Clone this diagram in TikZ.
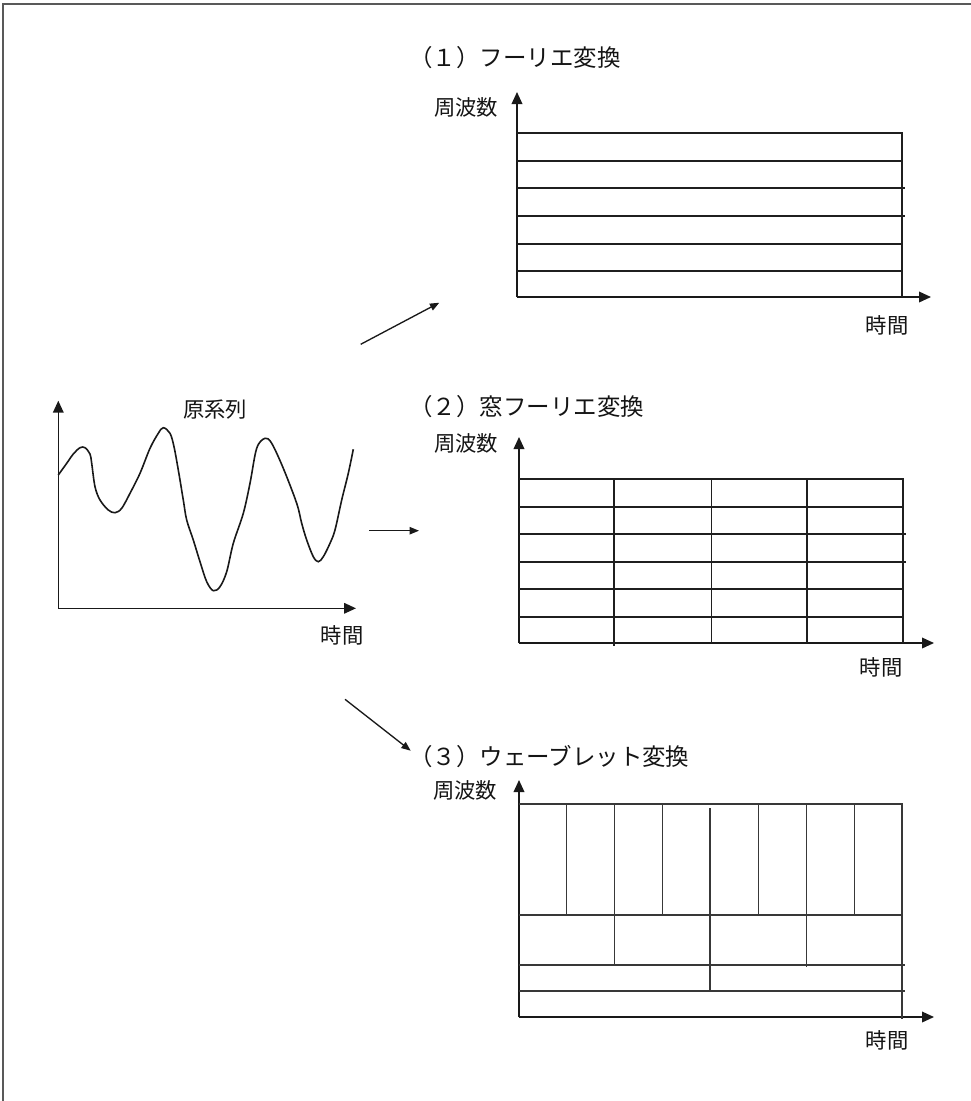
\documentclass[tikz,border=0pt]{standalone}
\usepackage{fontspec}
\setmainfont{Noto Sans CJK JP}
\usetikzlibrary{arrows.meta}
\begin{document}
\begin{tikzpicture}[x=0.75pt,y=-0.75pt,
  axis/.style={line width=1.1pt, draw=black!90, -{Triangle[length=9pt,width=8pt]}},
  gridln/.style={line width=1pt, draw=black!88},
  wgridln/.style={line width=0.8pt, draw=black!78},
  flow/.style={line width=1pt, draw=black!90, -{Triangle[length=7pt,width=5.5pt]}},
  lab/.style={font=\fontsize{16}{18}\selectfont, inner sep=0pt, text=black!92},
  ttl/.style={font=\fontsize{17.6}{20}\selectfont, inner sep=0pt, anchor=west, text=black!92},
  framel/.style={line width=1.2pt, draw=black!65}]
\useasboundingbox (0,0) rectangle (971,1101);
% outer frame (top and left)
\draw[framel] (3,1101) -- (3,4) -- (971,4);

% ---------- original series ----------
\coordinate (o0) at (58.3,608.3);
\coordinate (y0) at (58.3,400.7);
\coordinate (x0) at (356,608.3);
\draw[axis] (o0) -- (y0);
\draw[axis] (o0) -- (x0);
\node[lab] (orig) at (215,410) {原系列};
\node[lab] (t0) at (342,635) {時間};
\draw[line width=1.2pt, draw=black!90] plot[smooth, tension=0.55] coordinates {
(58.3,475) (66.7,463.3) (73.3,454) (80,447.7) (85,447.7) (90,454) (91.7,463.3)
(95,486.7) (100,500) (108.3,510) (115,512.7) (121.7,508.3) (130,493.3) (140,473.3)
(150,448.3) (158.3,433.3) (163.3,427.7) (170,433.3) (174,446.7) (178.3,470)
(183.3,500) (186.7,520) (193.3,540) (200,561.7) (206.7,581.7) (213.3,590.7)
(220,586.7) (226.7,571.7) (233.3,543.3) (243.3,513.3) (250,483.3) (256.7,448.3)
(265,438.3) (271.7,443.3) (283.3,468.3) (296.7,503.3) (301.7,523.3) (306.7,540)
(313.3,556.7) (318.3,561.7) (323.3,556.7) (330,543.3) (335,530) (341.7,500)
(348.3,473.3) (353.3,449.3)};

% ---------- flow arrows ----------
\coordinate (a1s) at (360.7,344.3);
\coordinate (a1e) at (439.3,302.7);
\coordinate (a2s) at (369.3,530.7);
\coordinate (a2e) at (419,530.7);
\coordinate (a3s) at (345,699.3);
\coordinate (a3e) at (410.7,750.7);
\draw[flow] (a1s) -- (a1e);
\draw[flow] (a2s) -- (a2e);
\draw[flow] (a3s) -- (a3e);

% ---------- (1) Fourier ----------
\node[ttl] (ttl1) at (409,58) {（１）フーリエ変換};
\node[lab] (f1) at (466,107) {周波数};
\node[lab] (t1) at (887,325) {時間};
\coordinate (o1) at (517,297);
\coordinate (y1) at (517,92);
\coordinate (x1) at (931,297);
\draw[axis] (o1) -- (y1);
\draw[axis] (o1) -- (x1);
\draw[gridln] (517,133) -- (902,133) -- (902,297);
\foreach \yy in {161,244,271} \draw[gridln] (517,\yy) -- (902,\yy);
\foreach \yy in {188,216} \draw[gridln] (517,\yy) -- (905,\yy);

% ---------- (2) windowed Fourier ----------
\node[ttl] (ttl2) at (409,407) {（２）窓フーリエ変換};
\node[lab] (f2) at (466,443) {周波数};
\node[lab] (t2) at (881,667) {時間};
\coordinate (o2) at (519,643);
\coordinate (y2) at (519,437);
\coordinate (x2) at (934,643);
\draw[axis] (o2) -- (y2);
\draw[axis] (o2) -- (x2);
\draw[gridln] (519,479) -- (903,479) -- (903,643);
\foreach \yy in {507,589,617} \draw[gridln] (519,\yy) -- (903,\yy);
\foreach \yy in {534,562} \draw[gridln] (519,\yy) -- (906,\yy);
\draw[gridln] (614,479) -- (614,646);
\foreach \xx in {711.5,807} \draw[gridln] (\xx,479) -- (\xx,643);

% ---------- (3) wavelet ----------
\node[ttl] (ttl3) at (409,757) {（３）ウェーブレット変換};
\node[lab] (f3) at (465,790) {周波数};
\node[lab] (t3) at (887,1040) {時間};
\coordinate (o3) at (519,1017);
\coordinate (y3) at (519,780);
\coordinate (x3) at (934,1017);
\draw[axis] (o3) -- (y3);
\draw[axis] (o3) -- (x3);
\draw[wgridln] (519,804) -- (902,804) -- (902,1019);
\draw[wgridln] (519,915) -- (902,915);
\foreach \yy in {965,991} \draw[wgridln] (519,\yy) -- (904.5,\yy);
\foreach \xx in {566.5,614.7,662.6,758.2,806.1,854.3} \draw[wgridln] (\xx,804) -- (\xx,915);
\draw[wgridln] (710,808) -- (710,991);
\draw[wgridln] (614.7,915) -- (614.7,965);
\draw[wgridln] (806.1,915) -- (806.1,967);
\end{tikzpicture}
\end{document}
